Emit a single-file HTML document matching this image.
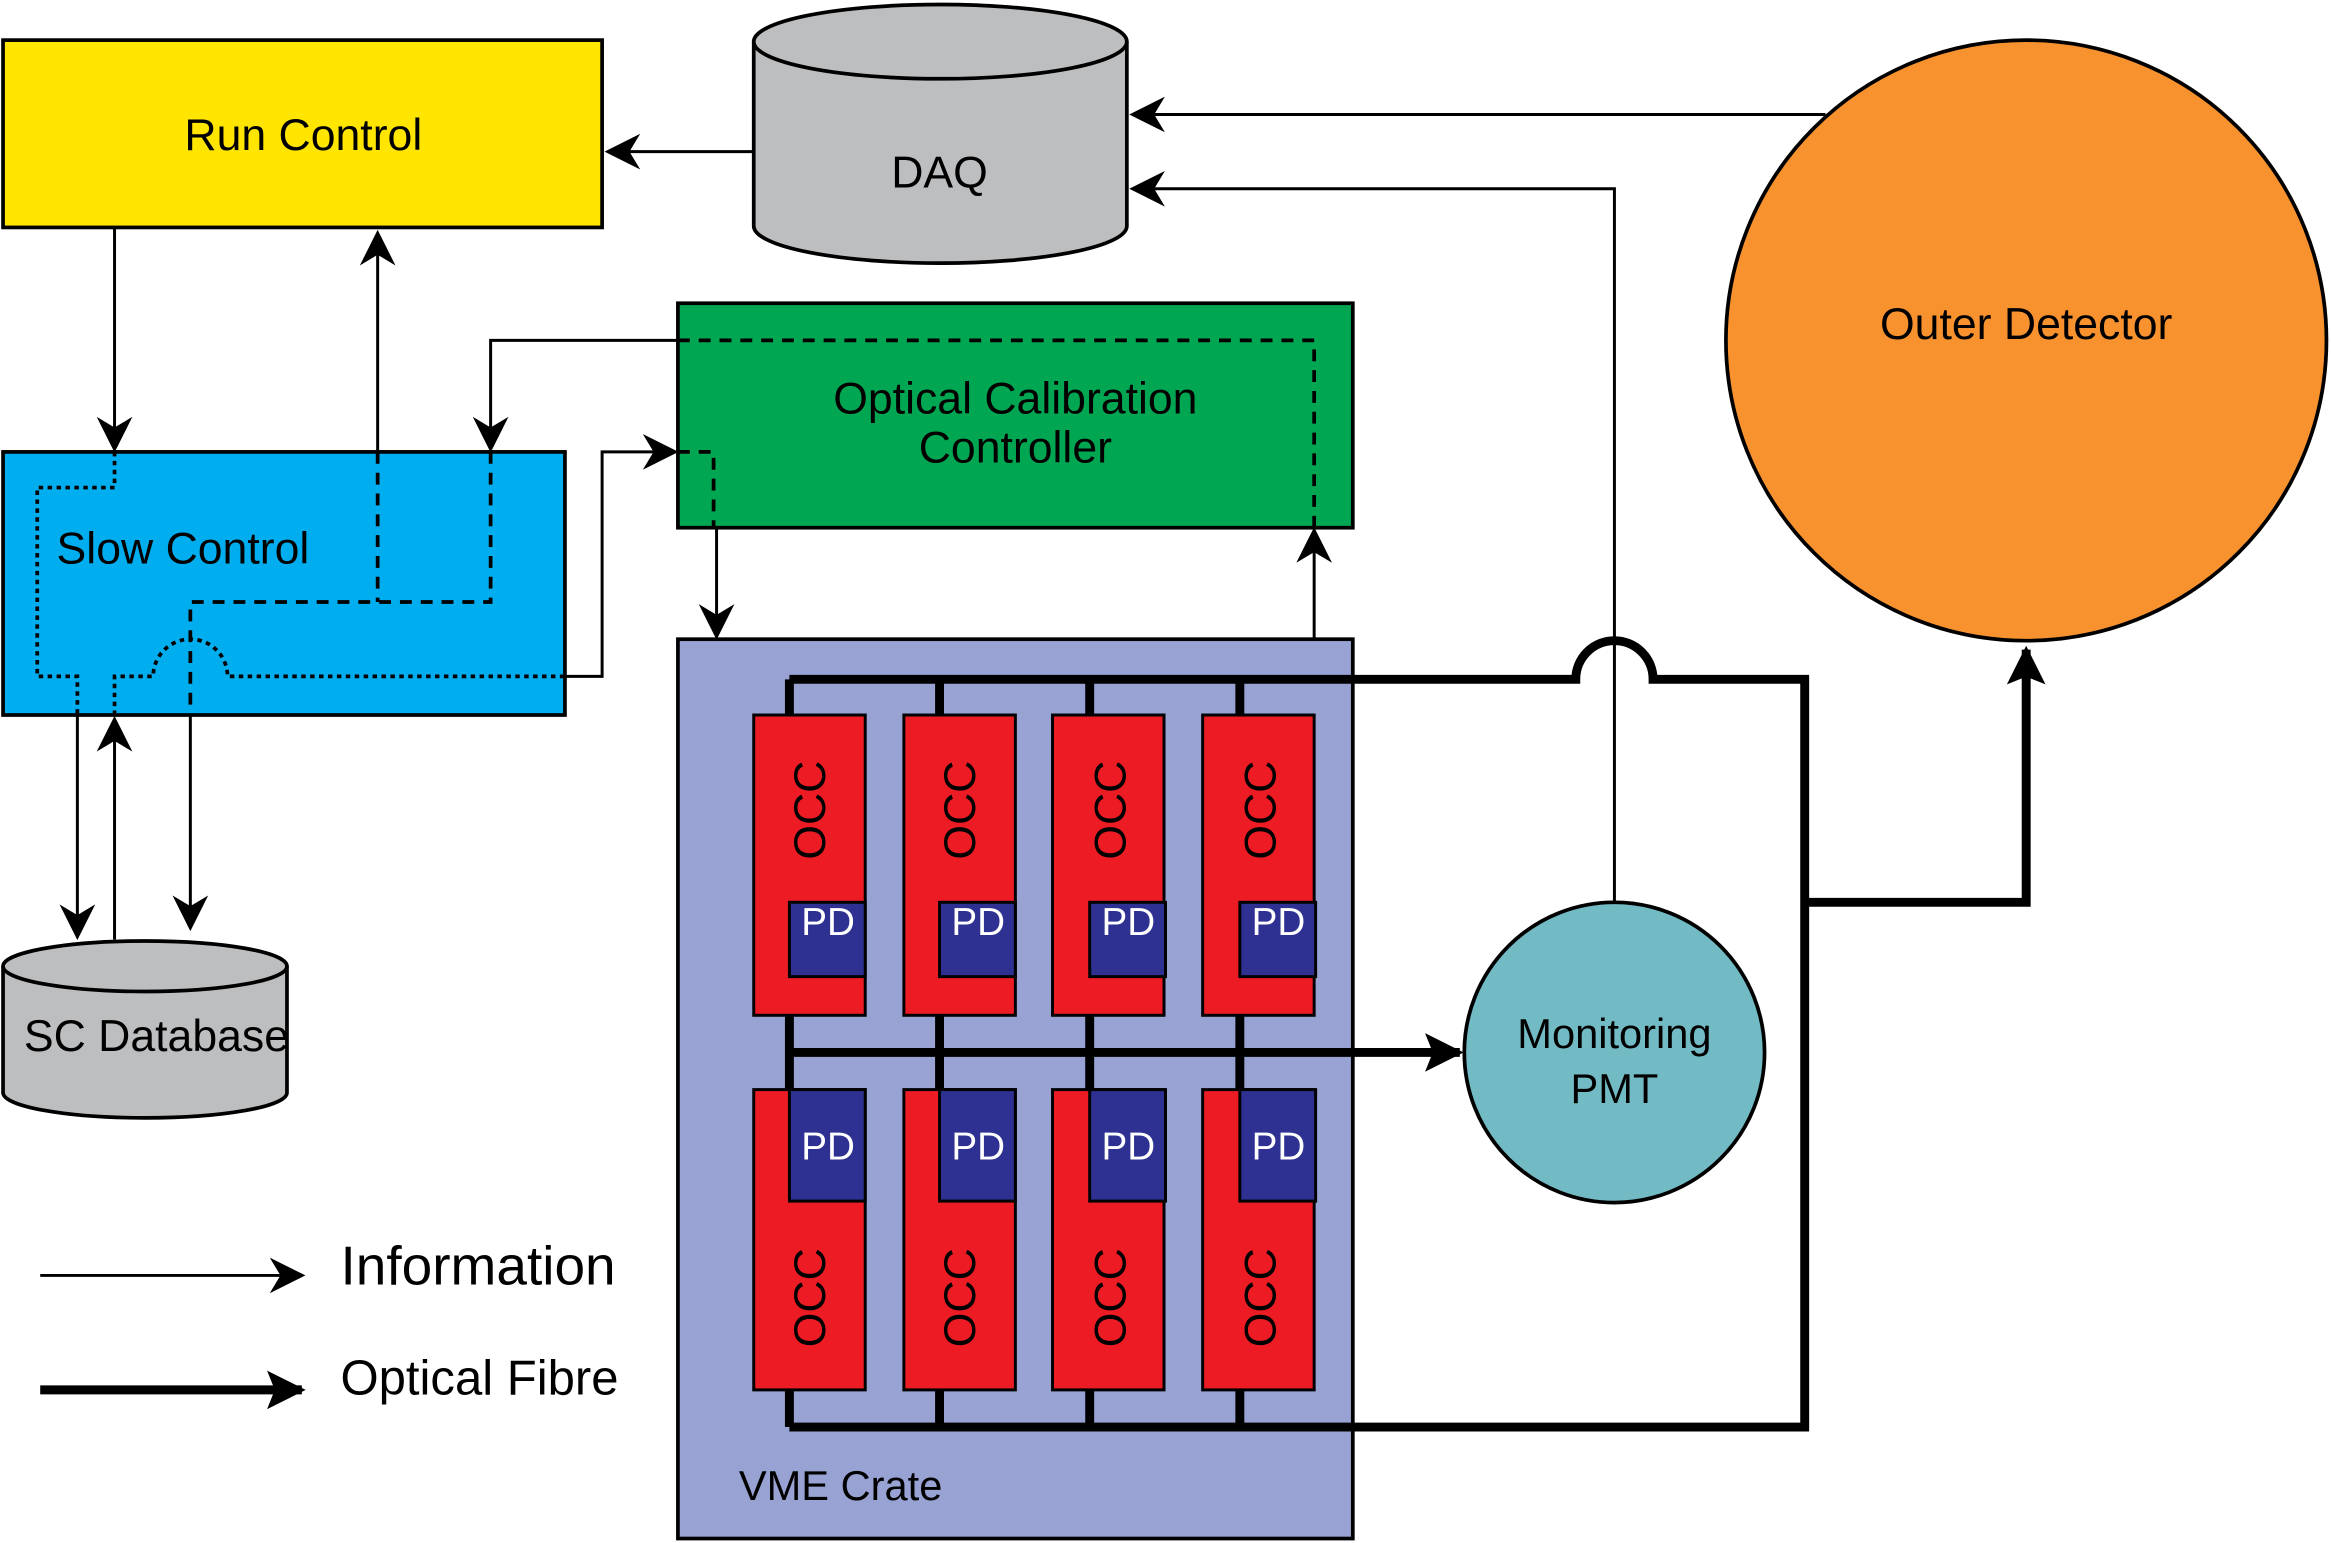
<!DOCTYPE html>
<html><head><meta charset="utf-8"><style>html,body{margin:0;padding:0;background:#fff}svg{display:block}text{font-family:"Liberation Sans",sans-serif;fill:#000}</style></head><body>
<svg width="2331" height="1543" viewBox="0 0 1568 1038" xmlns="http://www.w3.org/2000/svg">
<defs>
<marker id="b" viewBox="0 0 10 10" refX="9" refY="5" markerWidth="26" markerHeight="26" orient="auto" markerUnits="userSpaceOnUse"><path d="M0,0 L10,5 L0,10 L2,5z" fill="#000"/></marker>
<marker id="ai" viewBox="0 0 10 10" refX="9" refY="5" markerWidth="24" markerHeight="24" orient="auto" markerUnits="userSpaceOnUse"><path d="M0,0 L10,5 L0,10 L3,5z" fill="#000"/></marker>
</defs>
<g stroke="#000" stroke-width="2.5">
<rect x="2" y="27" width="403" height="126" fill="#FFE500"/>
<path d="M507,28 V152 A125.5,25 0 0 0 758,152 V28" fill="#BDBEC0"/>
<ellipse cx="632.5" cy="28" rx="125.5" ry="25" fill="#BDBEC0"/>
<circle cx="1363" cy="229" r="202" fill="#F7922F"/>
<rect x="456" y="204" width="454" height="151" fill="#00A651"/>
<rect x="2" y="304" width="378" height="177" fill="#00AEEF"/>
<path d="M2,650 V735 A95.5,17 0 0 0 193,735 V650" fill="#BDBEC0"/>
<ellipse cx="97.5" cy="650" rx="95.5" ry="17" fill="#BDBEC0"/>
<rect x="456" y="430" width="454" height="605" fill="#98A3D3"/>
<circle cx="1086" cy="708" r="101" fill="#72BAC4"/>
</g>
<g fill="none" stroke="#000" stroke-width="2">
<path d="M507,102 H409" marker-end="url(#ai)"/>
<path d="M1228,77 H762" marker-end="url(#ai)"/>
<path d="M1086,607 V127 H762" marker-end="url(#ai)"/>
<path d="M77,153 V302" marker-end="url(#ai)"/>
<path d="M254,304 V157" marker-end="url(#ai)"/>
<path d="M456,229 H330 V302" marker-end="url(#ai)"/>
<path d="M128,481 V624" marker-end="url(#ai)"/>
<path d="M52,481 V630" marker-end="url(#ai)"/>
<path d="M77,632 V484" marker-end="url(#ai)"/>
<path d="M380,455 H405 V304 H454" marker-end="url(#ai)"/>
<path d="M482,355 V428" marker-end="url(#ai)"/>
<path d="M884,430 V357" marker-end="url(#ai)"/>
<path d="M27,858 H203" marker-end="url(#ai)"/>
</g>
<g fill="none" stroke="#000" stroke-width="2.5" stroke-dasharray="8,6">
<path d="M456,229 H884 V355"/>
<path d="M456,304 H480 V355"/>
<path d="M330,304 V405 H128 V481"/>
<path d="M254,304 V405"/>
</g>
<g fill="none" stroke="#000" stroke-width="2.5" stroke-dasharray="3,3">
<path d="M77,304 V328 H25 V455 H52 V481"/>
<path d="M77,481 V455 H103 A25,25 0 0 1 153,455 H380"/>
</g>
<g fill="#ED1C24" stroke="#000" stroke-width="2">
<rect x="507" y="481" width="75" height="202"/><rect x="608" y="481" width="75" height="202"/><rect x="708" y="481" width="75" height="202"/><rect x="809" y="481" width="75" height="202"/>
<rect x="507" y="733" width="75" height="202"/><rect x="608" y="733" width="75" height="202"/><rect x="708" y="733" width="75" height="202"/><rect x="809" y="733" width="75" height="202"/>
</g>
<g fill="#2E3192" stroke="#000" stroke-width="2">
<rect x="531" y="607" width="51" height="50"/><rect x="632" y="607" width="51" height="50"/><rect x="733" y="607" width="51" height="50"/><rect x="834" y="607" width="51" height="50"/>
<rect x="531" y="733" width="51" height="75"/><rect x="632" y="733" width="51" height="75"/><rect x="733" y="733" width="51" height="75"/><rect x="834" y="733" width="51" height="75"/>
</g>
<g fill="none" stroke="#000" stroke-width="6">
<path d="M531,457 H1060 A26,26 0 0 1 1112,457 H1214 V960 H531"/>
<path d="M531,457 V481 M632,457 V481 M733,457 V481 M834,457 V481"/>
<path d="M531,935 V960 M632,935 V960 M733,935 V960 M834,935 V960"/>
<path d="M531,683 V733 M632,683 V733 M733,683 V733 M834,683 V733"/>
<path d="M531,708 H982" marker-end="url(#b)"/>
<path d="M1214,607 H1363 V437" marker-end="url(#b)"/>
<path d="M27,935 H203" marker-end="url(#b)"/>
</g>
<g font-size="30">
<text x="204" y="101" text-anchor="middle">Run Control</text>
<text x="632" y="126" text-anchor="middle">DAQ</text>
<text x="1363" y="228" text-anchor="middle">Outer Detector</text>
<text x="683" y="278" text-anchor="middle">Optical Calibration</text>
<text x="683" y="311" text-anchor="middle">Controller</text>
<text x="38" y="379">Slow Control</text>
<text x="16" y="707">SC Database</text>
<text x="1086" y="705" text-anchor="middle" font-size="28">Monitoring</text>
<text x="1086" y="742" text-anchor="middle" font-size="28">PMT</text>
<text x="497" y="1009" font-size="28">VME Crate</text>
<text x="229" y="864" font-size="37">Information</text>
<text x="229" y="938" font-size="33">Optical Fibre</text>
</g>
<g font-size="26">
<text x="557" y="629" text-anchor="middle" style="fill:#fff">PD</text><text x="658" y="629" text-anchor="middle" style="fill:#fff">PD</text><text x="759" y="629" text-anchor="middle" style="fill:#fff">PD</text><text x="860" y="629" text-anchor="middle" style="fill:#fff">PD</text>
<text x="557" y="780" text-anchor="middle" style="fill:#fff">PD</text><text x="658" y="780" text-anchor="middle" style="fill:#fff">PD</text><text x="759" y="780" text-anchor="middle" style="fill:#fff">PD</text><text x="860" y="780" text-anchor="middle" style="fill:#fff">PD</text>
</g>
<g font-size="30">
<text transform="translate(555,545) rotate(-90)" text-anchor="middle">OCC</text>
<text transform="translate(656,545) rotate(-90)" text-anchor="middle">OCC</text>
<text transform="translate(757,545) rotate(-90)" text-anchor="middle">OCC</text>
<text transform="translate(858,545) rotate(-90)" text-anchor="middle">OCC</text>
<text transform="translate(555,873) rotate(-90)" text-anchor="middle">OCC</text>
<text transform="translate(656,873) rotate(-90)" text-anchor="middle">OCC</text>
<text transform="translate(757,873) rotate(-90)" text-anchor="middle">OCC</text>
<text transform="translate(858,873) rotate(-90)" text-anchor="middle">OCC</text>
</g>
</svg>
</body></html>
